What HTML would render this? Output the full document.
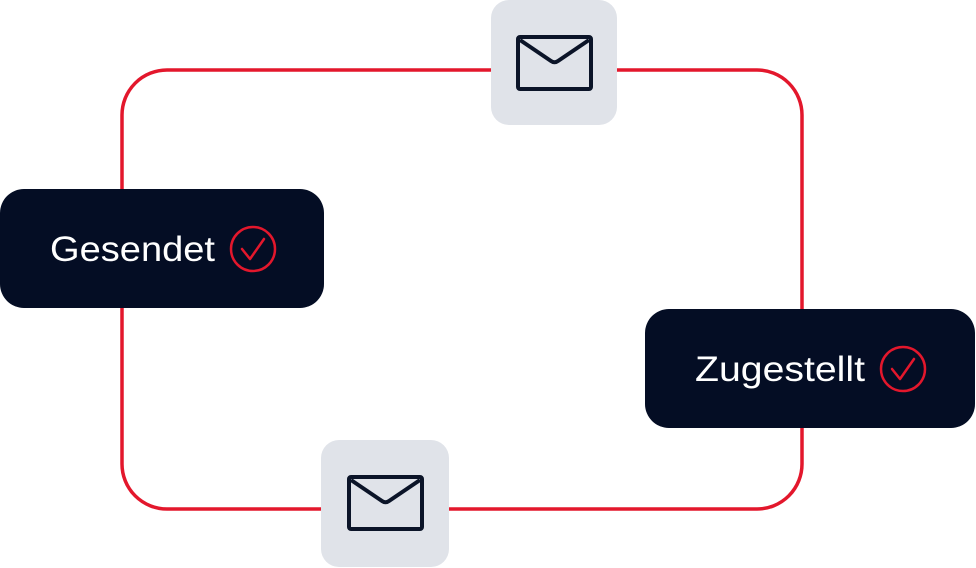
<!DOCTYPE html>
<html><head><meta charset="utf-8"><style>
html,body{margin:0;padding:0;background:#fff;}
svg{display:block;}
</style></head><body>
<svg width="976" height="568" viewBox="0 0 976 568" xmlns="http://www.w3.org/2000/svg">
  <rect x="122" y="70" width="680" height="439" rx="45" ry="45" fill="none" stroke="#e3172c" stroke-width="3.5"/>
  <rect x="491" y="0" width="126" height="125" rx="18" fill="#e0e3e9"/>
  <g fill="none" stroke="#0b1428" stroke-width="4" stroke-linejoin="round">
    <rect x="518" y="37" width="73" height="52" rx="2"/>
    <path d="M520 40 L551 61 Q554.5 63.5 558 61 L589 40"/>
  </g>
  <rect x="321" y="440" width="128" height="127" rx="18" fill="#e0e3e9"/>
  <g fill="none" stroke="#0b1428" stroke-width="4" stroke-linejoin="round">
    <rect x="349" y="477" width="73" height="52" rx="2"/>
    <path d="M351 480 L382 501 Q385.5 503.5 389 501 L420 480"/>
  </g>
  <rect x="0" y="189" width="324" height="119" rx="24" fill="#040d24"/>
  <text x="50" y="261" font-family="Liberation Sans, sans-serif" font-size="35" fill="#fff" textLength="165" lengthAdjust="spacingAndGlyphs">Gesendet</text>
  <circle cx="253" cy="249" r="22" fill="none" stroke="#e3172c" stroke-width="2.5"/>
  <path d="M242 249 L250 259 L264 239" fill="none" stroke="#e3172c" stroke-width="2.5" stroke-linecap="round" stroke-linejoin="round"/>
  <rect x="645" y="309" width="330" height="119" rx="24" fill="#040d24"/>
  <text x="695" y="381" font-family="Liberation Sans, sans-serif" font-size="35" fill="#fff" textLength="170" lengthAdjust="spacingAndGlyphs">Zugestellt</text>
  <circle cx="903" cy="369" r="22" fill="none" stroke="#e3172c" stroke-width="2.5"/>
  <path d="M892 369 L900 379 L914 359" fill="none" stroke="#e3172c" stroke-width="2.5" stroke-linecap="round" stroke-linejoin="round"/>
</svg>
</body></html>
